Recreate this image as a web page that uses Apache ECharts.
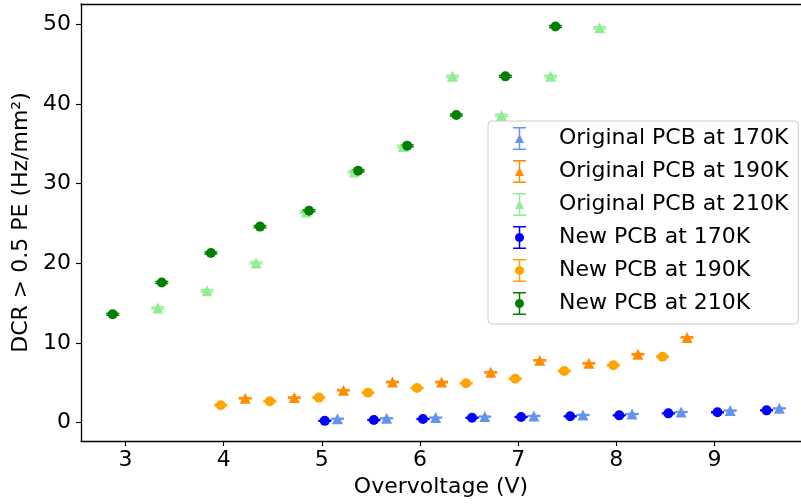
<!DOCTYPE html>
<html>
<head>
<meta charset="utf-8">
<script src="https://cdn.jsdelivr.net/npm/echarts@6/dist/echarts.min.js"></script>
<style>
  html, body { margin: 0; padding: 0; background: #fff; }
  #chart { width: 801px; height: 504px; }
</style>
</head>
<body>
<div id="chart"></div>
<script>
// Dark count rate above 0.5 PE versus overvoltage, original vs new PCB
const names = [
  'Original PCB at 170K', 'Original PCB at 190K', 'Original PCB at 210K',
  'New PCB at 170K', 'New PCB at 190K', 'New PCB at 210K'
];

const orig170X = [5.16, 5.66, 6.16, 6.66, 7.16, 7.66, 8.16, 8.66, 9.16, 9.66];
const orig170Y = [0.50, 0.55, 0.64, 0.77, 0.85, 0.97, 1.09, 1.34, 1.52, 1.80];

const orig190X = [4.22, 4.72, 5.22, 5.72, 6.22, 6.72, 7.22, 7.72, 8.22, 8.72];
const orig190Y = [3.06, 3.15, 4.07, 5.10, 5.10, 6.32, 7.82, 7.45, 8.58, 10.70];

const orig210X = [3.33, 3.83, 4.33, 4.84, 5.33, 5.83, 6.33, 6.83, 7.33, 7.83];
const orig210Y = [14.40, 16.55, 20.05, 26.45, 31.45, 34.65, 43.45, 38.55, 43.45, 49.55];

const new170X = [5.03, 5.53, 6.03, 6.53, 7.03, 7.53, 8.03, 8.53, 9.03, 9.53];
const new170Y = [0.23, 0.34, 0.46, 0.62, 0.72, 0.80, 0.92, 1.17, 1.30, 1.55];

const new190X = [3.97, 4.47, 4.97, 5.47, 5.97, 6.47, 6.97, 7.47, 7.97, 8.47];
const new190Y = [2.20, 2.70, 3.15, 3.76, 4.35, 4.94, 5.52, 6.49, 7.20, 8.28];

const new210X = [2.87, 3.37, 3.87, 4.37, 4.87, 5.37, 5.87, 6.37, 6.87, 7.38];
const new210Y = [13.60, 17.60, 21.30, 24.60, 26.60, 31.60, 34.75, 38.60, 43.45, 49.70];

// symmetric y uncertainty per data set (Hz/mm²)
const yErr = [0.05, 0.08, 0.12, 0.05, 0.08, 0.12];

const xTicks = [3, 4, 5, 6, 7, 8, 9];
const yTicks = [0, 10, 20, 30, 40, 50];

const xs = [orig170X, orig190X, orig210X, new170X, new190X, new210X];
const ys = [orig170Y, orig190Y, orig210Y, new170Y, new190Y, new210Y];
const colors = ['#6495ED', '#FF8C00', '#90EE90', '#0000FF', '#FFA500', '#008000'];
const symbols = ['triangle', 'triangle', 'triangle', 'circle', 'circle', 'circle'];

const FONT = 'DejaVu Sans';
const X_MIN = 2.547, X_MAX = 9.881;

// legend glyphs: error bar with caps plus the marker, drawn in a 13x23 box
const capsStem = 'M0 0 L13 0 L13 1.5 L0 1.5 Z M5.75 0 L7.25 0 L7.25 23 L5.75 23 Z M0 21.5 L13 21.5 L13 23 L0 23 Z ';
const triIcon = 'path://' + capsStem + 'M6.5 7 L11 16 L2 16 Z';
const dotIcon = 'path://' + capsStem + 'M2 11.5 A4.5 4.5 0 1 1 11 11.5 A4.5 4.5 0 1 1 2 11.5 Z';

const series = [];
names.forEach((name, i) => {
  const pts = xs[i].map((x, k) => [x, ys[i][k]]);
  const err = yErr[i];
  const color = colors[i];
  series.push({
    type: 'custom',
    name: name + ' (err)',
    data: pts,
    encode: { x: 0, y: 1 },
    silent: true,
    z: 2,
    renderItem: function (params, api) {
      const x = api.value(0), y = api.value(1);
      const top = api.coord([x, y + err]);
      const bot = api.coord([x, y - err]);
      const cap = 6.5;
      const st = { stroke: color, lineWidth: 1.5 };
      return {
        type: 'group',
        children: [
          { type: 'line', shape: { x1: top[0], y1: top[1], x2: bot[0], y2: bot[1] }, style: st },
          { type: 'line', shape: { x1: top[0] - cap, y1: top[1], x2: top[0] + cap, y2: top[1] }, style: st },
          { type: 'line', shape: { x1: bot[0] - cap, y1: bot[1], x2: bot[0] + cap, y2: bot[1] }, style: st }
        ]
      };
    }
  });
  series.push({
    type: 'scatter',
    name: name,
    data: pts,
    symbol: symbols[i],
    symbolSize: symbols[i] === 'circle' ? 10 : 11,
    itemStyle: { color: color, opacity: 1 },
    z: 2,
    silent: true
  });
});

const chart = echarts.init(document.getElementById('chart'), null, { renderer: 'canvas' });
chart.setOption({
  animation: false,
  backgroundColor: '#fff',
  textStyle: { fontFamily: FONT },
  grid: { left: 81, top: 4, right: 0, height: 437, show: false },
  xAxis: [{
    type: 'value',
    min: X_MIN, max: X_MAX,
    position: 'bottom',
    name: 'Overvoltage (V)',
    nameLocation: 'middle',
    nameGap: 34,
    nameTextStyle: { fontFamily: FONT, fontSize: 22, color: '#000' },
    axisLine: { show: true, onZero: false, lineStyle: { color: '#000', width: 1.3 } },
    axisTick: { show: true, length: 5, customValues: xTicks, lineStyle: { color: '#000', width: 1.1 } },
    axisLabel: { customValues: xTicks, margin: 8, fontFamily: FONT, fontSize: 22, color: '#000' },
    splitLine: { show: false }
  }, {
    // top frame line
    type: 'value',
    min: X_MIN, max: X_MAX,
    position: 'top',
    axisLine: { show: true, onZero: false, lineStyle: { color: '#000', width: 1.3 } },
    axisTick: { show: false },
    axisLabel: { show: false },
    splitLine: { show: false }
  }],
  yAxis: {
    type: 'value',
    min: -2.296, max: 52.53,
    name: 'DCR > 0.5 PE (Hz/mm²)',
    nameLocation: 'middle',
    nameGap: 42,
    nameRotate: 90,
    nameTextStyle: { fontFamily: FONT, fontSize: 22, color: '#000' },
    axisLine: { show: true, onZero: false, lineStyle: { color: '#000', width: 1.3 } },
    axisTick: { show: true, length: 5, customValues: yTicks, lineStyle: { color: '#000', width: 1.1 } },
    axisLabel: { customValues: yTicks, margin: 10, fontFamily: FONT, fontSize: 22, color: '#000' },
    splitLine: { show: false }
  },
  legend: {
    orient: 'vertical',
    left: 488, top: 121,
    padding: [6, 10, 9, 25],
    itemWidth: 13, itemHeight: 23, itemGap: 10,
    backgroundColor: 'rgba(255,255,255,0.8)',
    borderColor: '#cccccc', borderWidth: 1, borderRadius: 4,
    textStyle: { fontFamily: FONT, fontSize: 22, color: '#000', padding: [0, 0, 0, 28] },
    selectedMode: false,
    data: names.map((n, i) => ({ name: n, icon: symbols[i] === 'circle' ? dotIcon : triIcon }))
  },
  series: series
});
</script>
</body>
</html>
